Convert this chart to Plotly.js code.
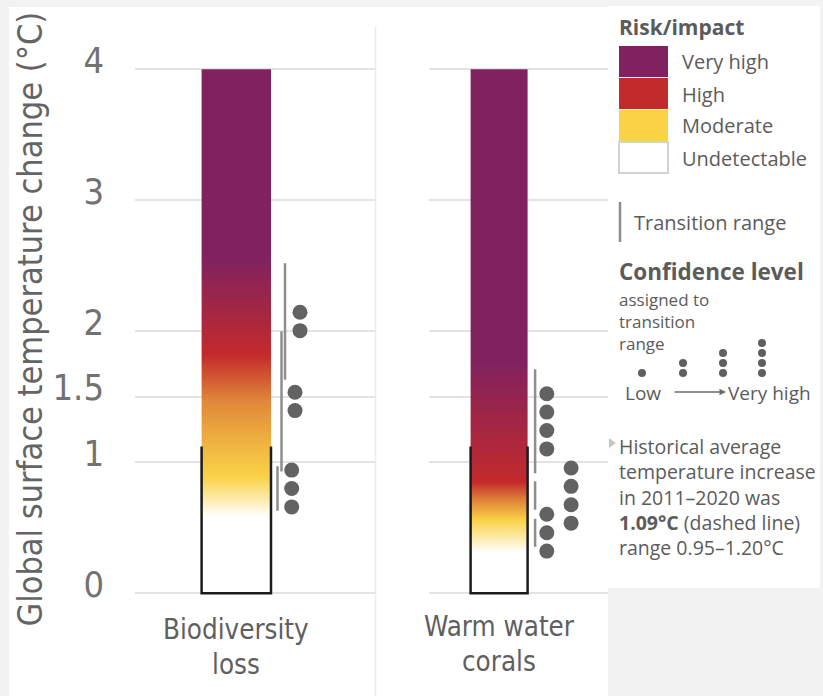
<!DOCTYPE html>
<html><head><meta charset="utf-8">
<script src="https://cdn.plot.ly/plotly-3.0.1.min.js"></script>
<style>html,body{margin:0;padding:0;background:#f2f2f2;} #chart{width:823px;height:696px;}</style>
</head><body><div id="chart"></div>
<script>
// ================= DATA =================
const categories = ["Biodiversity loss", "Warm water corals"];
const categoryLines = [["Biodiversity", "loss"], ["Warm water", "corals"]];
const yTickVals = [0, 1, 1.5, 2, 3, 4];
const yTickText = ["0", "1", "1.5", "2", "3", "4"];
const emberTop = 4;
// Ember colour stops: temperature (°C) and risk level (0 undetectable … 3 very high)
const bioStopTemp  = [0, 0.58, 0.89, 1.17, 1.47, 1.82, 2.55, 4];
const bioStopRisk  = [0, 0,    1,    1.2,  1.45, 2,    3,    3];
const coralStopTemp = [0, 0.31, 0.56, 0.72, 0.85, 1.78, 4];
const coralStopRisk = [0, 0,    1,    1.5,  2,    3,    3];
// Transition ranges (°C) and confidence (number of dots)
const bioTransLow    = [0.63, 0.93, 1.63];
const bioTransHigh   = [0.97, 2.00, 2.52];
const bioConfidence  = [3, 2, 2];
const coralTransLow   = [0.355, 0.637, 0.916];
const coralTransHigh  = [0.57, 0.855, 1.71];
const coralConfidence = [3, 4, 4];
// Historical warming (drawn band and dashed line)
const histMean = 1.12;
const histLow = 0.95;
const histHigh = 1.25;
const outlineTop = [1.12, 1.12];
// Legend
const riskLabels = ["Very high", "High", "Moderate", "Undetectable"];
const riskLevelsLegend = [3, 2, 1, 0];
const riskPalette = ["#ffffff", "#f9d246", "#c32a2c", "#80225f"]; // index = risk level
const confidenceLevels = [1, 2, 3, 4];

// ================= LAYOUT HELPERS =================
const W = 823, H = 696;
const X = p => p / W;
const Y = p => 1 - p / H;
const NARROW = '"DejaVu Sans Condensed", "DejaVu Sans", sans-serif';
const SANS = '"Open Sans", "Noto Sans", sans-serif';
const TXT = '#5b5b5b';

function hex2rgb(h){ return [1,3,5].map(i => parseInt(h.substr(i,2),16)); }
function riskColor(L){
  const i0 = Math.max(0, Math.min(2, Math.floor(L)));
  const f = L - i0;
  const a = hex2rgb(riskPalette[i0]), b = hex2rgb(riskPalette[i0+1]);
  const c = a.map((v,k) => Math.round(v + (b[k]-v)*f));
  return 'rgb(' + c.join(',') + ')';
}
function scaleFrom(temps, risks){
  return temps.map((t,i) => [t/emberTop, riskColor(risks[i])]);
}

// panel geometry (axis units = px relative to ember centre)
const panels = [
  {xa:'x',  centre:236.3, halfW:34.7, lineOff:[41.2,45.2,48.7], dotOff:[55.4,58.7,63.7],
   temps:bioStopTemp, risks:bioStopRisk, lo:bioTransLow, hi:bioTransHigh, conf:bioConfidence, lab:[628.5,663.5]},
  {xa:'x2', centre:499.1, halfW:28.5, lineOff:[36,36,36], dotOff:[47.7,72,47.7],
   temps:coralStopTemp, risks:coralStopRisk, lo:coralTransLow, hi:coralTransHigh, conf:coralConfidence, lab:[626,661]}
];
const pxPerUnit = 131;
const dotStep = 18.4 / pxPerUnit;

const traces = [];
const annotations = [];
const shapes = [];

panels.forEach((p, pi) => {
  traces.push({
    type:'scatter', xaxis:p.xa, yaxis:'y', mode:'lines',
    x:[-p.halfW, p.halfW, p.halfW, -p.halfW, -p.halfW],
    y:[0, 0, emberTop, emberTop, 0],
    line:{width:0, color:'rgba(0,0,0,0)'}, fill:'toself',
    fillgradient:{type:'vertical', start:0, stop:emberTop, colorscale:scaleFrom(p.temps, p.risks)},
    hoverinfo:'skip', name:categories[pi]
  });
  traces.push({
    type:'scatter', xaxis:p.xa, yaxis:'y', mode:'lines',
    x:[-p.halfW, -p.halfW, p.halfW, p.halfW],
    y:[outlineTop[pi], 0, 0, outlineTop[pi]],
    line:{color:'#1c1c1c', width:2.5}, hoverinfo:'skip'
  });
  const lx = [], ly = [], dx = [], dy = [];
  p.lo.forEach((lo, k) => {
    const hi = p.hi[k];
    lx.push(p.lineOff[k], p.lineOff[k], null);
    ly.push(lo, hi, null);
    const mid = (lo + hi) / 2, n = p.conf[k];
    for (let j = 0; j < n; j++) {
      dx.push(p.dotOff[k]);
      dy.push(mid + ((n - 1) / 2 - j) * dotStep);
    }
  });
  traces.push({type:'scatter', xaxis:p.xa, yaxis:'y', mode:'lines', x:lx, y:ly,
    line:{color:'#8e8e8e', width:2.5}, connectgaps:false, hoverinfo:'skip'});
  traces.push({type:'scatter', xaxis:p.xa, yaxis:'y', mode:'markers', x:dx, y:dy,
    marker:{color:'#626262', size:15, line:{width:0}}, hoverinfo:'skip', cliponaxis:false});
  const xd = p.xa + ' domain';
  shapes.push({type:'rect', xref:xd, yref:'y', x0:0, x1:1, y0:histLow, y1:histHigh,
    fillcolor:'#ececec', line:{width:0}, layer:'below'});
  shapes.push({type:'line', xref:xd, yref:'y', x0:0, x1:1, y0:histMean, y1:histMean,
    line:{color:'#c6c6c6', width:2, dash:'9px,7px'}, layer:'below'});
  categoryLines[pi].forEach((t, li) => {
    annotations.push({xref:p.xa, yref:'paper', x:0, y:Y(p.lab[li]), text:t, showarrow:false,
      xanchor:'center', yanchor:'middle', borderpad:0, font:{family:NARROW, size:27.5, color:'#5f5f5f'}});
  });
});

// arrow head of the dashed line pointing to legend text
shapes.push({type:'path', xref:'paper', yref:'paper',
  path:`M ${X(609)},${Y(438)} L ${X(616)},${Y(443)} L ${X(609)},${Y(448)} Z`,
  fillcolor:'#c6c6c6', line:{width:0}});

// white backgrounds
shapes.push({type:'rect', xref:'paper', yref:'paper', x0:X(9), x1:X(608), y0:0, y1:Y(7),
  fillcolor:'#ffffff', line:{width:0}, layer:'below'});
shapes.push({type:'rect', xref:'paper', yref:'paper', x0:X(608), x1:X(820), y0:Y(588), y1:Y(6),
  fillcolor:'#ffffff', line:{width:0}, layer:'below'});
shapes.push({type:'line', xref:'paper', yref:'paper', x0:X(375.5), x1:X(375.5), y0:0, y1:Y(27),
  line:{color:'#ececec', width:1.5}, layer:'below'});

// y-axis title
annotations.push({xref:'paper', yref:'paper', x:X(29.5), y:Y(319), textangle:-90,
  text:'Global surface temperature change (°C)', showarrow:false, xanchor:'center', yanchor:'middle',
  borderpad:0, font:{family:NARROW, size:34, color:'#646464'}});

// ===== Legend =====
annotations.push({xref:'paper', yref:'paper', x:X(618), y:Y(27), xanchor:'left', yanchor:'middle',
  text:'<b>Risk/impact</b>', showarrow:false, borderpad:0, font:{family:SANS, size:21, color:TXT}});
const swTop = [46, 78, 110, 142];
riskLabels.forEach((lab, i) => {
  const lvl = riskLevelsLegend[i];
  shapes.push({type:'rect', xref:'paper', yref:'paper', x0:X(619), x1:X(668), y0:Y(swTop[i]+31), y1:Y(swTop[i]),
    fillcolor:riskPalette[lvl], line:{width: lvl === 0 ? 1.5 : 0, color:'#c4c4c4'}});
  annotations.push({xref:'paper', yref:'paper', x:X(681), y:Y(swTop[i]+16), xanchor:'left', yanchor:'middle',
    text:lab, showarrow:false, borderpad:0, font:{family:SANS, size:20, color:TXT}});
});
shapes.push({type:'line', xref:'paper', yref:'paper', x0:X(620), x1:X(620), y0:Y(242), y1:Y(202),
  line:{color:'#8e8e8e', width:2.5}});
annotations.push({xref:'paper', yref:'paper', x:X(633), y:Y(222), xanchor:'left', yanchor:'middle',
  text:'Transition range', showarrow:false, borderpad:0, font:{family:SANS, size:20, color:TXT}});
annotations.push({xref:'paper', yref:'paper', x:X(618), y:Y(271), xanchor:'left', yanchor:'middle',
  text:'<b>Confidence level</b>', showarrow:false, borderpad:0, font:{family:SANS, size:22.5, color:TXT}});
annotations.push({xref:'paper', yref:'paper', x:X(618), y:Y(321), xanchor:'left', yanchor:'middle', align:'left',
  text:'assigned to<br>transition<br>range', showarrow:false, borderpad:0, font:{family:SANS, size:17, color:TXT}});
const legDotX = [642, 683, 723, 762];
confidenceLevels.forEach((n, i) => {
  for (let j = 0; j < n; j++) {
    const cy = 373 - j * 10;
    shapes.push({type:'circle', xref:'paper', yref:'paper',
      x0:X(legDotX[i]-4), x1:X(legDotX[i]+4), y0:Y(cy+4), y1:Y(cy-4),
      fillcolor:'#5f5f5f', line:{width:0}});
  }
});
annotations.push({xref:'paper', yref:'paper', x:X(624), y:Y(393), xanchor:'left', yanchor:'middle',
  text:'Low', showarrow:false, borderpad:0, font:{family:SANS, size:19, color:TXT}});
annotations.push({xref:'paper', yref:'paper', x:X(727), y:Y(393), xanchor:'left', yanchor:'middle',
  text:'Very high', showarrow:false, borderpad:0, font:{family:SANS, size:19, color:TXT}});
annotations.push({xref:'paper', yref:'paper', x:X(726), y:Y(392), ax:-53, ay:0, text:'',
  showarrow:true, arrowhead:2, arrowsize:1, arrowwidth:1.3, arrowcolor:'#6a6a6a'});
annotations.push({xref:'paper', yref:'paper', x:X(618), y:Y(497), xanchor:'left', yanchor:'middle', align:'left',
  text:'Historical average<br>temperature increase<br>in 2011–2020 was<br><b>1.09°C</b> (dashed line)<br>range 0.95–1.20°C',
  showarrow:false, borderpad:0, font:{family:SANS, size:19.5, color:TXT}});

// ================= LAYOUT =================
const layout = {
  width:W, height:H, margin:{l:0, r:0, t:0, b:0, pad:0},
  paper_bgcolor:'#f2f2f2', plot_bgcolor:'#ffffff', showlegend:false,
  xaxis:{domain:[X(135), X(375)], range:[135-236.3, 375-236.3], anchor:'y',
    showgrid:false, zeroline:false, showticklabels:false, showline:false, fixedrange:true},
  xaxis2:{domain:[X(429), X(608)], range:[429-499.1, 608-499.1], anchor:'y',
    showgrid:false, zeroline:false, showticklabels:false, showline:false, fixedrange:true},
  yaxis:{domain:[Y(606.4), Y(30)], range:[-0.1, 4.3], anchor:'x',
    tickmode:'array', tickvals:yTickVals, ticktext:yTickText, ticks:'',
    showgrid:true, gridcolor:'#e3e3e3', gridwidth:2, zeroline:false, showline:false,
    tickfont:{family:NARROW, size:36, color:'#727272'}, ticklabelstandoff:30, ticklabelshift:-9, fixedrange:true},
  shapes:shapes, annotations:annotations
};

Plotly.newPlot('chart', traces, layout, {displayModeBar:false, staticPlot:true});
</script>
</body></html>
